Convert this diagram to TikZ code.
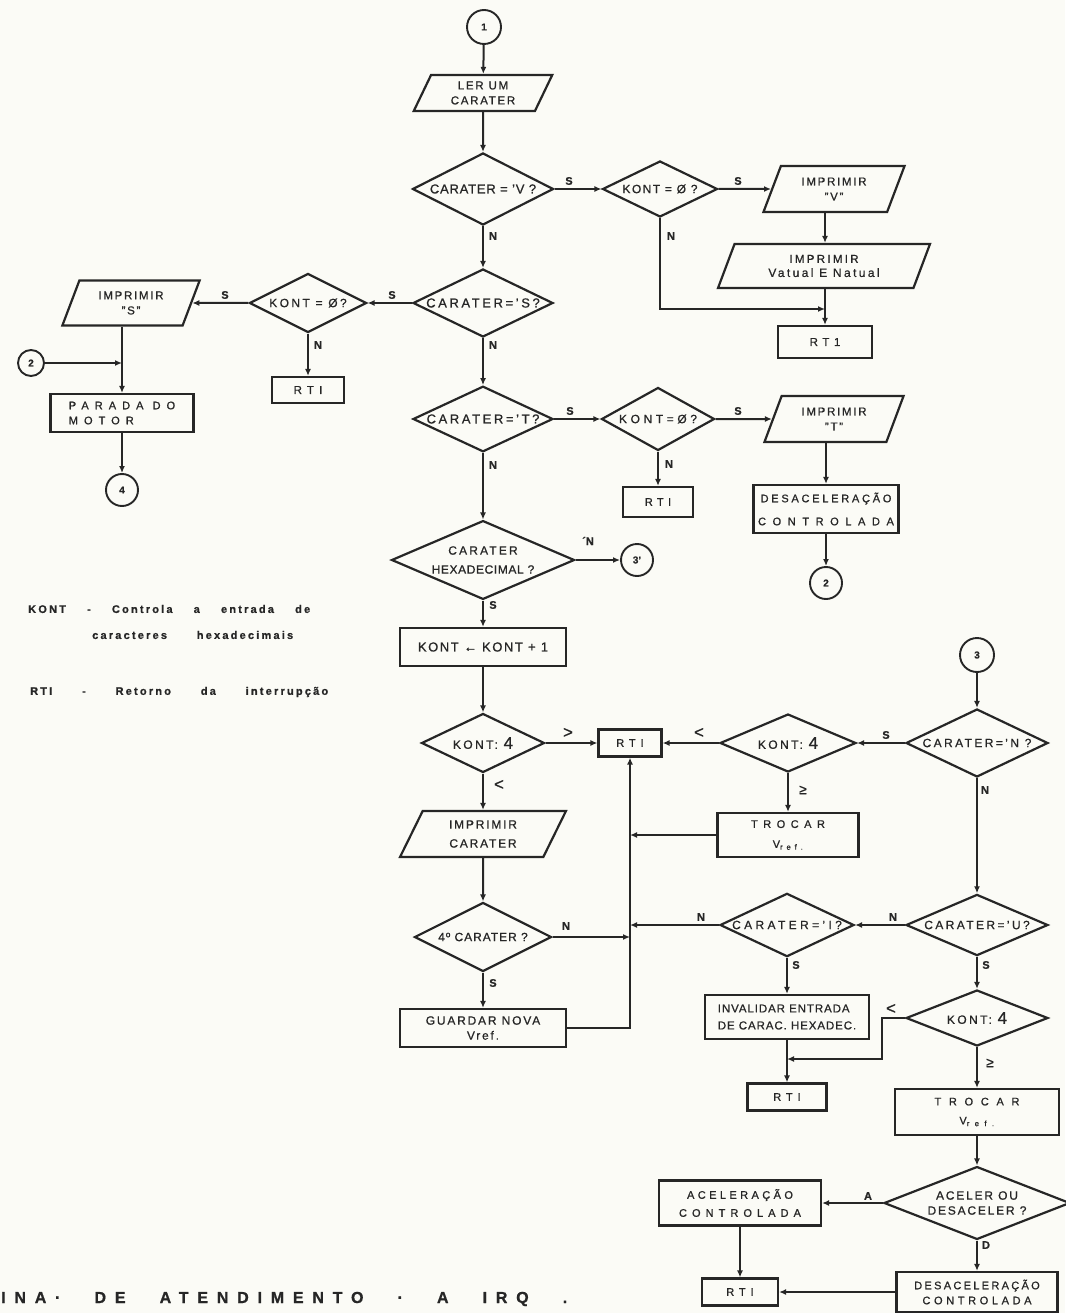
\documentclass[tikz,border=0pt]{standalone}
\usepackage{fontspec}
\setmainfont{Liberation Sans}[FakeBold=0.8]
\usetikzlibrary{shapes.geometric, arrows.meta}
\definecolor{paper}{RGB}{251,251,246}
\definecolor{ink}{RGB}{38,38,38}
\newcommand\bigfour{{\fontsize{17}{15}\selectfont\addfontfeature{LetterSpace=0}4}}
\newcommand\ls[2]{{\addfontfeature{LetterSpace=#1}#2}}
\tikzset{
  f/.style n args={3}{font=\fontsize{#1}{#2}\selectfont\addfontfeature{LetterSpace=#3}},
  sz/.style 2 args={minimum width=#1pt, minimum height=#2pt},
  proc/.style={draw=ink, line width=2.2pt, rectangle, inner sep=0pt, align=center, text=ink, f={12}{15}{15}},
  dec/.style={draw=ink, line width=2.2pt, diamond, shape aspect=2, inner sep=0pt, align=center, text=ink, f={12}{15}{20}},
  io/.style={draw=ink, line width=2.2pt, trapezium, trapezium left angle=65,
    trapezium right angle=115, trapezium stretches=true, inner sep=0pt, align=center,
    text=ink, f={11.5}{15}{15}},
  conn/.style={draw=ink, line width=1.9pt, circle, inner sep=0pt,
    font=\fontsize{10}{12}\selectfont\bfseries, text=ink},
  lab/.style={font=\fontsize{11}{12}\selectfont\bfseries, text=ink, inner sep=0pt},
  chev/.style={lab, font=\fontsize{17}{17}\selectfont},
  flow/.style={draw=ink, line width=2pt, -{Latex[length=7pt,width=6pt]}},
  legend/.style={font=\fontsize{11}{12}\selectfont\bfseries\addfontfeature{LetterSpace=20},
    text=ink, inner sep=0pt, anchor=west},
}
\begin{document}
\begin{tikzpicture}[x=1pt, y=-1pt]
\fill[paper] (0,0) rectangle (1065,1313);
\useasboundingbox (0,0) rectangle (1065,1313);

% ---- main column, top part
\node[conn, minimum size=34pt] (c1) at (484,27) {1};
\node[io, sz={139}{36}] (ler) at (483,93) {LER UM\\CARATER};
\node[dec, sz={141}{72}, f={13}{15}{6}] (dV) at (483,189) {CARATER = 'V ?};
\node[dec, sz={115}{56}, f={12}{15}{12}] (kV) at (660,189) {KONT = Ø ?};
\node[io, sz={142}{46}] (pV) at (834,189) {IMPRIMIR\\"V"};
\node[io, sz={212}{44}, f={11.5}{14}{20}] (pVN) at (824,266) {IMPRIMIR\\{\fontsize{12}{14}\selectfont Vatual E Natual}};
\node[proc, sz={94}{32}, f={11.5}{14}{40}] (rV) at (825,342) {RT1};
\coordinate (jV) at (825,309);

\node[dec, sz={140}{68}, f={13}{15}{20}] (dS) at (483,303) {CARATER='S?};
\node[dec, sz={117}{59}, f={12}{15}{20}] (kS) at (308,303) {KONT = Ø?};
\node[io, sz={138}{45}] (pS) at (131,303) {IMPRIMIR\\"S"};
\node[proc, sz={72}{26}, f={11.5}{14}{45}] (rS) at (308,390) {RTI};
\node[conn, minimum size=26pt] (c2a) at (31,363) {2};
\node[proc, sz={143}{38}, f={11}{15}{55}, align=left] (park) at (122,413) {PARADA DO\\MOTOR};
\node[conn, minimum size=32pt] (c4) at (122,490) {4};

\node[dec, sz={140}{64}, f={13}{15}{20}] (dT) at (483,419) {CARATER='T?};
\node[dec, sz={113}{63}, f={12}{15}{30}] (kT) at (658,419) {KONT=Ø?};
\node[proc, sz={70}{30}, f={11}{14}{40}] (rT) at (658,502) {RTI};
\node[io, sz={140}{46}] (pT) at (834,419) {IMPRIMIR\\"T"};
\node[proc, sz={145}{48}, f={11}{23}{25}] (dsT) at (826,509) {DESACELERAÇÃO\\\ls{60}{CONTROLADA}};
\node[conn, minimum size=32pt] (c2b) at (826,583) {2};

\node[dec, sz={183}{65}, f={12}{19}{5}] (dH) at (483,560) {\ls{18}{CARATER}\\HEXADECIMAL ?};
\node[conn, minimum size=32pt] (c3p) at (637,560) {3'};

% ---- counting of hexadecimal characters
\node[proc, sz={166}{38}, f={13}{15}{12}] (inc) at (483,647) {KONT ← KONT + 1};
\node[dec, sz={123}{59}] (k4a) at (483,743) {KONT: \bigfour};
\node[proc, sz={63}{27}, f={11}{14}{45}] (rM) at (630,743) {RTI};
\node[dec, sz={136}{58}] (k4b) at (788,743) {KONT: \bigfour};
\node[dec, sz={142}{68}] (dN) at (977,743) {CARATER='N ?};
\node[conn, minimum size=34pt] (c3) at (977,655) {3};
\node[proc, sz={141}{44}, f={11}{20}{50}] (trA) at (788,835) {TROCAR\\V\textsubscript{ref.}};
\node[io, sz={166}{46}, f={12}{19}{15}] (pC) at (483,834) {IMPRIMIR\\CARATER};
\node[dec, sz={137}{69}, f={12}{15}{8}] (d4) at (483,937) {4º CARATER ?};
\node[proc, sz={166}{38}] (gd) at (483,1028) {GUARDAR NOVA\\Vref.};

% ---- commands U and I
\node[dec, sz={134}{58}, f={12}{15}{28}] (dI) at (787,925) {CARATER='I?};
\node[dec, sz={142}{57}] (dU) at (977,925) {CARATER='U?};
\node[proc, sz={164}{44}, f={11.5}{17}{8}, align=left] (inv) at (787,1017) {INVALIDAR ENTRADA\\DE CARAC. HEXADEC.};
\node[dec, sz={142}{56}] (k4c) at (977,1018) {KONT: \bigfour};
\node[proc, sz={79}{27}, f={11}{14}{45}] (rI) at (787,1097) {RTI};
\coordinate (kb) at (882,1059);
\node[proc, sz={164}{46}, f={11}{19}{70}] (trB) at (977,1112) {TROCAR\\V\textsubscript{ref.}};
\node[dec, sz={186}{60}, f={12}{15}{15}] (dA) at (977,1203) {ACELER OU\\DESACELER ?};
\node[proc, sz={162}{45}, f={11}{18}{31}] (acel) at (740,1203) {ACELERAÇÃO\\\ls{46}{CONTROLADA}};
\node[proc, sz={161}{40}, f={11}{15}{21}] (dsB) at (977,1292) {DESACELERAÇÃO\\\ls{33}{CONTROLADA}};
\node[proc, sz={76}{27}, f={11}{14}{45}] (rB) at (740,1292) {RTI};

% ---- connectors
\draw[flow] (c1) -- (ler);
\draw[flow] (ler) -- (dV);
\draw[flow] (dV) -- (kV);
\draw[flow] (kV) -- (pV);
\draw[flow] (pV.south -| rV) -- (pVN.north -| rV);
\draw[flow] (pVN.south -| rV) -- (rV);
\draw[flow] (kV.south) |- (jV);
\draw[flow] (dV) -- (dS);
\draw[flow] (dS) -- (kS);
\draw[flow] (kS) -- (pS);
\draw[flow] (kS) -- (rS);
\draw[flow] (pS.south -| park) -- (park);
\draw[flow] (c2a) -- (c2a -| park);
\draw[flow] (park) -- (c4);
\draw[flow] (dS) -- (dT);
\draw[flow] (dT) -- (kT);
\draw[flow] (kT) -- (pT);
\draw[flow] (kT) -- (rT);
\draw[flow] (pT.south -| dsT) -- (dsT);
\draw[flow] (dsT) -- (c2b);
\draw[flow] (dT) -- (dH);
\draw[flow] (dH) -- (c3p);
\draw[flow] (dH) -- (inc);
\draw[flow] (inc) -- (k4a);
\draw[flow] (k4a) -- (rM);
\draw[flow] (k4a) -- (pC);
\draw[flow] (pC) -- (d4);
\draw[flow] (d4) -- (d4 -| rM);
\draw[flow] (d4) -- (gd);
\draw[flow] (gd.east) -| (rM.south);
\draw[flow] (c3) -- (dN);
\draw[flow] (dN) -- (k4b);
\draw[flow] (k4b) -- (rM);
\draw[flow] (k4b) -- (trA);
\draw[flow] (trA) -- (trA -| rM);
\draw[flow] (dN) -- (dU);
\draw[flow] (dU) -- (dI);
\draw[flow] (dI) -- (dI -| rM);
\draw[flow] (dI) -- (inv);
\draw[flow] (inv) -- (rI);
\draw[flow] (dU) -- (k4c);
\draw[flow] (k4c.west) -| (kb) -- (kb -| rI);
\draw[flow] (k4c) -- (trB);
\draw[flow] (trB) -- (dA);
\draw[flow] (dA) -- (acel);
\draw[flow] (dA) -- (dsB);
\draw[flow] (acel) -- (rB);
\draw[flow] (dsB) -- (rB);

% ---- branch labels
\node[lab] (s1) at (569,181) {S};
\node[lab] (s2) at (738,181) {S};
\node[lab] (n1) at (493,236) {N};
\node[lab] (n2) at (671,236) {N};
\node[lab] (s3) at (392,295) {S};
\node[lab] (s4) at (225,295) {S};
\node[lab] (n3) at (318,345) {N};
\node[lab] (n4) at (493,345) {N};
\node[lab] (s5) at (570,411) {S};
\node[lab] (s6) at (738,411) {S};
\node[lab] (n5) at (493,465) {N};
\node[lab] (n6) at (669,464) {N};
\node[lab] (n7) at (588,541) {´N};
\node[lab] (s7) at (493,605) {S};
\node[chev] (g1) at (568,733) {>};
\node[chev] (l1) at (499,785) {<};
\node[chev] (l2) at (699,733) {<};
\node[lab] (s8) at (886,735) {S};
\node[lab, font=\fontsize{14}{14}\selectfont] (ge1) at (803,790) {≥};
\node[lab] (n8) at (985,790) {N};
\node[lab] (n9) at (566,926) {N};
\node[lab] (s9) at (493,983) {S};
\node[lab] (n10) at (701,917) {N};
\node[lab] (n11) at (893,917) {N};
\node[lab] (s10) at (796,965) {S};
\node[lab] (s11) at (986,965) {S};
\node[chev] (l3) at (891,1009) {<};
\node[lab, font=\fontsize{14}{14}\selectfont] (ge2) at (990,1063) {≥};
\node[lab] (a1) at (868,1196) {A};
\node[lab] (d1) at (986,1245) {D};

% ---- legend
\node[legend] (kont) at (28,609) {\makebox[282pt][s]{KONT - Controla a entrada de}};
\node[legend] (kont2) at (92,635) {\makebox[201pt][s]{caracteres hexadecimais}};
\node[legend] (rti) at (30,692) {\makebox[298pt][s]{RTI - Retorno da interrupção}};

% ---- title line
\node[anchor=west, inner sep=0pt, text=ink,
  font=\fontsize{16}{18}\selectfont\bfseries\addfontfeature{LetterSpace=55}]
  (title) at (1,1299) {\makebox[566pt][s]{INA· DE ATENDIMENTO · A IRQ .}};
\end{tikzpicture}
\end{document}
